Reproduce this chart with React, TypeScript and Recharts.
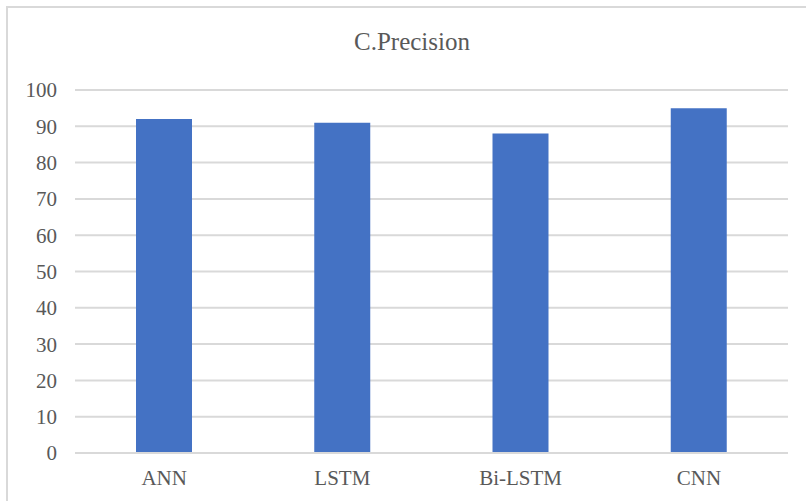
import React from "react";
import { BarChart, Bar, XAxis, YAxis, CartesianGrid } from "recharts";

const models = ["ANN", "LSTM", "Bi-LSTM", "CNN"];
const precision = [92, 91, 88, 95];
const yTicks = [0, 10, 20, 30, 40, 50, 60, 70, 80, 90, 100];
const title = "C.Precision";

const data = models.map((name, i) => ({ name, precision: precision[i] }));

const FONT = "'Liberation Serif', 'Times New Roman', serif";
const TEXT = "#595959";
const GRID = "#D9D9D9";

export default function App() {
  return (
    <div
      style={{
        position: "absolute",
        left: 0,
        top: 0,
        width: 806,
        height: 501,
        overflow: "hidden",
        background: "#fff",
        fontFamily: FONT,
      }}
    >
      <div
        style={{
          position: "absolute",
          left: 6,
          top: 6,
          width: 820,
          height: 520,
          border: `2px solid ${GRID}`,
          boxSizing: "border-box",
        }}
      />
      <div
        style={{
          position: "absolute",
          left: 0,
          width: 824,
          top: 26,
          textAlign: "center",
          fontSize: 25,
          color: TEXT,
          lineHeight: "32px",
        }}
      >
        {title}
      </div>
      <div style={{ position: "absolute", left: 0, top: 0 }}>
        <BarChart
          width={806}
          height={501}
          data={data}
          margin={{ top: 90, right: 18, bottom: 0, left: 0 }}
          barCategoryGap={0}
        >
          <CartesianGrid vertical={false} stroke={GRID} strokeWidth={2} />
          <XAxis
            dataKey="name"
            height={48}
            tickLine={false}
            axisLine={{ stroke: GRID, strokeWidth: 2 }}
            tickSize={0}
            tickMargin={17}
            tick={{ fill: TEXT, fontSize: 21, fontFamily: FONT }}
            interval={0}
          />
          <YAxis
            width={75}
            domain={[0, 100]}
            ticks={yTicks}
            interval={0}
            tickLine={false}
            axisLine={false}
            tickSize={0}
            tickMargin={18}
            tick={{ fill: TEXT, fontSize: 21, fontFamily: FONT }}
          />
          <Bar dataKey="precision" fill="#4472C4" barSize={56} isAnimationActive={false} />
        </BarChart>
      </div>
    </div>
  );
}
